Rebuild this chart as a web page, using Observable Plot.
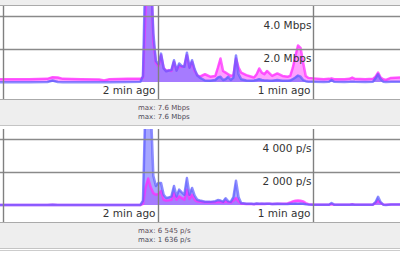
<!DOCTYPE html>
<html><head><meta charset="utf-8">
<script src="https://cdn.jsdelivr.net/npm/d3@7"></script>
<script src="https://cdn.jsdelivr.net/npm/@observablehq/plot@0.6"></script>
<style>
html,body{margin:0;padding:0;background:#fff;}
body{width:400px;height:261px;overflow:hidden;font-family:"DejaVu Sans",Verdana,sans-serif;}
.topbar{height:5px;background:#eee;border-bottom:1px solid #aaa;}
.chart svg{display:block;}
.band{height:21px;padding-top:4px;background:#eee;border-top:1px solid #aaa;border-bottom:1px solid #c4c4c4;padding-left:138px;font-size:7px;line-height:9px;margin-bottom:3px;}
.band .l1{color:#5a4c58;}
.band .l2{color:#4c4c5a;}
.foot{margin-top:-1px;border-top:1px solid #ccc;height:8px;}
</style></head>
<body>
<div class="topbar"></div>
<div id="c1" class="chart"></div>
<div class="band" id="b1"></div>
<div id="c2" class="chart"></div>
<div class="band" id="b2" style="margin-bottom:2px"></div>
<div class="foot"></div>
<script>
// seconds ago
const times = [182,170,163,161,159,157,150,143,141,139,
  132,127,126,125,124,123,122,121,120,119,
  118,117,116,115,114,113,112,111,110,109,
  108,107,106,105,104,102,100,98,97,96,
  95,94,93,92,91,90,89,88,86,84,
  83,82,81,80,79,78,77,76,74,72,
  70,69,68,67,66,65,64,63,62,60,
  56,54,53,52,48,46,45,44,40,37,
  36,35,34,33,32,30,26];
// Mbps, blue series
const mbpsA = [0.02,0.02,0.03,0.12,0.03,0.02,0.02,0.02,0.02,0.02,
  0.03,0.05,0.40,7.60,7.20,6.80,3.00,1.30,1.10,1.75,
  0.85,0.68,0.72,0.75,1.35,0.72,1.15,1.00,0.95,1.80,
  0.90,1.35,0.80,0.42,0.30,0.12,0.10,0.15,0.30,0.35,
  0.15,0.20,0.35,0.15,0.30,1.64,0.50,0.20,0.12,0.10,
  0.12,0.15,0.20,0.15,0.12,0.12,0.10,0.10,0.15,0.10,
  0.10,0.12,0.20,0.30,0.42,0.35,0.15,0.08,0.05,0.05,
  0.03,0.04,0.15,0.04,0.03,0.04,0.05,0.04,0.03,0.05,
  0.25,0.50,0.20,0.05,0.03,0.05,0.05];
// Mbps, magenta series
const mbpsB = [0.20,0.20,0.22,0.32,0.30,0.22,0.20,0.18,0.12,0.20,
  0.22,0.22,0.30,4.50,7.60,7.30,2.50,1.20,1.00,1.65,
  0.90,0.70,0.75,0.70,1.25,0.75,1.00,0.95,1.00,1.65,
  0.90,1.25,0.70,0.45,0.35,0.50,0.35,0.40,0.90,1.45,
  0.70,0.60,0.50,0.40,0.45,1.45,0.90,0.60,0.45,0.35,
  0.30,0.50,0.85,0.60,0.50,0.70,0.55,0.40,0.55,0.40,
  0.35,0.40,0.90,1.60,2.24,2.10,1.20,0.40,0.28,0.25,
  0.20,0.22,0.25,0.20,0.20,0.22,0.30,0.22,0.20,0.22,
  0.35,0.60,0.30,0.20,0.15,0.28,0.30];
// packets/s, blue series
const ppsA = [30,30,30,45,30,30,30,30,25,30,
  30,35,300,6545,6500,6000,1800,1180,1370,1370,
  650,450,480,550,1180,550,960,800,650,1660,
  650,1060,600,350,300,230,220,260,330,300,
  230,440,250,230,500,1500,500,150,100,100,
  90,120,100,110,100,110,100,90,100,90,
  90,100,110,120,110,120,110,80,60,50,
  40,45,150,50,40,45,60,45,40,50,
  200,520,200,50,30,60,60];
// packets/s, magenta series
const ppsB = [30,30,35,40,35,30,30,30,25,30,
  30,30,100,1100,1636,1100,750,650,700,880,
  350,300,320,350,750,350,550,450,350,960,
  400,650,350,250,220,200,190,200,210,230,
  180,250,200,180,300,450,250,120,90,90,
  80,100,90,100,90,110,100,90,110,100,
  120,180,250,290,300,290,250,150,80,50,
  50,50,80,50,45,50,80,50,45,50,
  150,290,150,60,40,60,60];
const timeTicks = [180, 120, 60];
const timeLabels = [120, 60];
const mbpsTicks = [2, 4];
const ppsTicks = [2000, 4000];

const BLUE = "#5c5cff", MAG = "#ff2cff";
const fmtMbps = v => v.toFixed(1) + " Mbps";
const fmtPps = v => d3.format(",")(Math.round(v)).replace(/,/g, " ") + " p/s";

function chart(a, b, yTicks, top, fmt) {
  const rows = times.map((t, i) => ({t, a: a[i], b: b[i]}));
  return Plot.plot({
    width: 400, height: 93, margin: 0,
    style: {fontFamily: "DejaVu Sans, Verdana, sans-serif", background: "transparent", overflow: "hidden"},
    x: {domain: [181.16, 26.32], range: [0, 400], axis: null},
    y: {domain: [0, top], range: [76, 0], axis: null},
    marks: [
      Plot.areaY(rows, {x: "t", y: "b", fill: MAG, fillOpacity: 0.45, clip: true}),
      Plot.areaY(rows, {x: "t", y: "a", fill: BLUE, fillOpacity: 0.55, clip: true}),
      Plot.lineY(rows, {x: "t", y: "b", stroke: MAG, strokeWidth: 2.5, strokeOpacity: 0.75, clip: true}),
      Plot.lineY(rows, {x: "t", y: "a", stroke: BLUE, strokeWidth: 2.5, strokeOpacity: 0.7, clip: true}),
      Plot.ruleY(yTicks, {stroke: "#8a8a8a", strokeWidth: 1.6}),
      Plot.ruleX(timeTicks, {stroke: "#808080", strokeWidth: 1.4}),
      Plot.text(timeLabels, {x: d => d, y: () => 0, text: d => `${d / 60} min ago`, textAnchor: "end", lineAnchor: "middle", dx: -3, dy: 8, fontSize: 10.5, fill: "#333"}),
      Plot.text(yTicks, {x: () => 60, y: d => d, text: fmt, textAnchor: "end", lineAnchor: "middle", dx: -2, dy: 9, fontSize: 10.5, fill: "#333"})
    ]
  });
}

document.getElementById("c1").append(chart(mbpsA, mbpsB, mbpsTicks, 76 / 66 * 4, fmtMbps));
document.getElementById("c2").append(chart(ppsA, ppsB, ppsTicks, 76 / 66 * 4000, fmtPps));
document.getElementById("b1").innerHTML =
  `<div class="l1">max: ${fmtMbps(d3.max(mbpsA))}</div><div class="l2">max: ${fmtMbps(d3.max(mbpsB))}</div>`;
document.getElementById("b2").innerHTML =
  `<div class="l1">max: ${fmtPps(d3.max(ppsA))}</div><div class="l2">max: ${fmtPps(d3.max(ppsB))}</div>`;
</script>
</body></html>
